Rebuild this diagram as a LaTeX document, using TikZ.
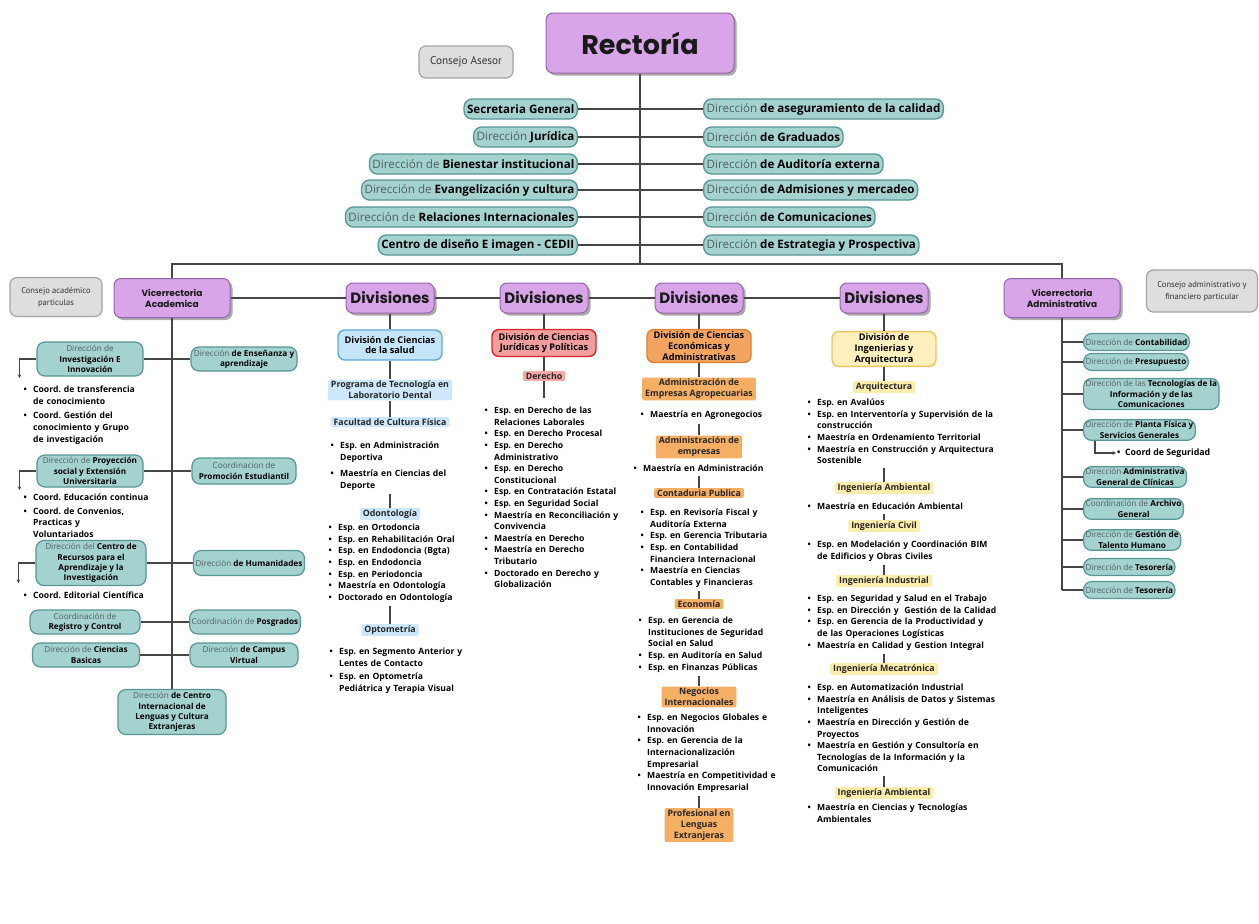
\documentclass[tikz,border=0pt]{standalone}
\usepackage{fontspec}
\setmainfont{Open Sans}
\newfontfamily\headfont{Poppins}
\newfontfamily\narrowfont{PT Sans}
\usetikzlibrary{shadows,arrows.meta}
\AtBeginDocument{\frenchspacing}

\definecolor{lila}{RGB}{216,166,232}
\definecolor{lilaborde}{RGB}{150,100,170}
\definecolor{turq}{RGB}{163,210,207}
\definecolor{turqborde}{RGB}{88,150,150}
\definecolor{gris}{RGB}{222,222,222}
\definecolor{grisborde}{RGB}{165,165,165}
\definecolor{azul}{RGB}{196,229,248}
\definecolor{azulborde}{RGB}{95,170,215}
\definecolor{azulclaro}{RGB}{204,232,250}
\definecolor{rojo}{RGB}{242,158,158}
\definecolor{rojoborde}{RGB}{214,40,40}
\definecolor{rosa}{RGB}{244,168,168}
\definecolor{naranja}{RGB}{243,165,95}
\definecolor{naranjaborde}{RGB}{222,128,50}
\definecolor{naranjaclaro}{RGB}{245,175,100}
\definecolor{amarillo}{RGB}{253,240,188}
\definecolor{amarilloborde}{RGB}{238,196,96}
\definecolor{amarilloclaro}{RGB}{252,237,172}
\definecolor{linea}{RGB}{70,70,70}
\definecolor{txtgris}{RGB}{80,95,95}

\newcommand{\rg}[1]{{\mdseries\color{txtgris}#1}}
\newcommand{\itm}[1]{\par\hangindent=11pt\hangafter=1\noindent
  \makebox[11pt][l]{\hspace{1.5pt}\textbullet}{\let\\\newline#1}\par}

\tikzset{
  conn/.style={draw=linea, line width=1.1pt},
  flecha/.style={conn, -{Stealth[length=3.5pt,width=3.5pt]}},
  morado/.style={draw=lilaborde, fill=lila, line width=1pt, rounded corners=7pt,
    drop shadow={shadow xshift=2.5pt, shadow yshift=-2.5pt, fill=black!65},
    align=center, inner sep=2pt, text=black!90},
  divs/.style={morado, minimum width=88pt, minimum height=30pt,
    font=\headfont\bfseries\fontsize{15}{17}\selectfont},
  vice/.style={morado, minimum width=116pt, minimum height=39pt,
    font=\headfont\bfseries\fontsize{9}{11}\selectfont},
  consejo/.style={draw=grisborde, fill=gris, line width=1.2pt, rounded corners=7pt,
    align=center, inner sep=2pt, text=black!80},
  pill/.style={draw=turqborde, fill=turq, line width=1.3pt, rounded corners=8pt,
    font=\bfseries\fontsize{11.6}{13}\selectfont, inner xsep=3pt, inner ysep=1pt, minimum height=20pt},
  cajita/.style={draw=turqborde, fill=turq, line width=1.2pt, rounded corners=8pt,
    font=\bfseries\fontsize{8.2}{10.3}\selectfont, align=center, inner sep=2pt, minimum height=17pt},
  division/.style={line width=1.4pt, rounded corners=7pt, font=\bfseries\fontsize{9.2}{10.8}\selectfont,
    align=center, inner sep=2pt, minimum width=104pt},
  resalte/.style={font=\bfseries\fontsize{8.8}{11}\selectfont, align=center,
    inner xsep=3pt, inner ysep=1.5pt, rounded corners=2pt, text=black!85},
  lista/.style={anchor=north west, inner sep=0pt, outer ysep=4pt, align=left, text width=#1,
    font=\bfseries\fontsize{8.6}{11.6}\selectfont},
}

\begin{document}
\begin{tikzpicture}[x=1pt,y=-1pt]
\fill[white] (0,0) rectangle (1259,924);
\useasboundingbox (0,0) rectangle (1259,924);

% rectoria
\node[morado, minimum width=188pt, minimum height=60pt,
  font=\headfont\bfseries\fontsize{27}{30}\selectfont] (rect) at (640,43) {Rectoría};
\node[consejo, minimum width=94pt, minimum height=32pt,
  font=\narrowfont\fontsize{11.2}{13}\selectfont] (casesor) at (466,62) {Consejo Asesor};
\coordinate (bus) at (640,264);
\draw[conn] (rect.south) -- (bus);

\foreach \y/\nm/\txt in {109/sg/{Secretaria General}, 137/jur/{\rg{Dirección} Jurídica},
  164/bien/{\rg{Dirección de} Bienestar institucional}, 190/evan/{\rg{Dirección de} Evangelización y cultura},
  217/rri/{\rg{Dirección de} Relaciones Internacionales}, 245/cedii/{Centro de diseño E imagen - CEDII}}{
  \node[pill, anchor=east] (\nm) at (578,\y) {\txt};
  \draw[conn] (\nm.east) -- (rect.south |- \nm.east);
}
\foreach \y/\nm/\txt in {109/cal/{\rg{Dirección} de aseguramiento de la calidad}, 137/grad/{\rg{Dirección} de Graduados},
  164/aud/{\rg{Dirección} de Auditoría externa}, 190/admis/{\rg{Dirección} de Admisiones y mercadeo},
  217/com/{\rg{Dirección} de Comunicaciones}, 245/estr/{\rg{Dirección} de Estrategia y Prospectiva}}{
  \node[pill, anchor=west] (\nm) at (703,\y) {\txt};
  \draw[conn] (rect.south |- \nm.west) -- (\nm.west);
}

% segundo nivel
\node[consejo, minimum width=92pt, minimum height=39pt,
  font=\narrowfont\fontsize{8.5}{12}\selectfont] (cacad) at (56,297) {Consejo académico\\particulas};
\node[vice] (vacad) at (172,298) {Vicerrectoria\\Academica};
\node[vice] (vadm) at (1062,298) {Vicerrectoria\\Administrativa};
\node[consejo, minimum width=111pt, minimum height=42pt,
  font=\narrowfont\fontsize{8.5}{12}\selectfont] (cadm) at (1202,291) {Consejo administrativo y\\financiero particular};
\foreach \nm/\x in {div1/390, div2/544, div3/699, div4/884}
  \node[divs] (\nm) at (\x,298) {Divisiones};
\draw[conn] (vacad.north) -- (vacad.north |- bus) -- (vadm.north |- bus) -- (vadm.north);
\draw[conn] (vacad.east) -- (div1.west) (div1.east) -- (div2.west) (div2.east) -- (div3.west)
  (div3.east) -- (div4.west);

% vicerrectoria academica
\node[cajita, minimum width=108pt, minimum height=45pt] (cil) at (172,712)
  {\rg{Dirección} de Centro\\Internacional de\\Lenguas y Cultura\\Extranjeras};
\draw[conn] (vacad.south) -- (cil.north);

\node[cajita, minimum width=106pt, minimum height=34pt] (inv) at (90,359) {\rg{Dirección de}\\Investigación E\\Innovación};
\node[cajita, minimum width=106pt, minimum height=24pt] (ens) at (244,359) {\rg{Dirección} de Enseñanza y\\aprendizaje};
\node[cajita, minimum width=106pt, minimum height=32pt] (proy) at (90,471) {\rg{Dirección de} Proyección\\social y Extensión\\Universitaria};
\node[cajita, minimum width=104pt, minimum height=26pt] (prom) at (244,471) {\rg{Coordinacion de}\\Promoción Estudiantil};
\node[cajita, minimum width=110pt, minimum height=45pt] (crai) at (91,563) {\rg{Dirección del} Centro de\\Recursos para el\\Aprendizaje y la\\Investigación};
\node[cajita, minimum width=111pt, minimum height=25pt] (hum) at (249,563) {\rg{Dirección} de Humanidades};
\node[cajita, minimum width=110pt, minimum height=24pt] (reg) at (85,622) {\rg{Coordinación de}\\Registro y Control};
\node[cajita, minimum width=110pt, minimum height=24pt] (posg) at (245,622) {\rg{Coordinación de} Posgrados};
\node[cajita, minimum width=107pt, minimum height=24pt] (cbas) at (86,655) {\rg{Dirección de} Ciencias\\Basicas};
\node[cajita, minimum width=108pt, minimum height=24pt] (cvir) at (244,655) {\rg{Dirección} de Campus\\Virtual};
\foreach \a/\b in {inv/ens, proy/prom, crai/hum, reg/posg, cbas/cvir}
  \draw[conn] (\a.east) -- (\b.west);
\foreach \a/\d in {inv/19, proy/19, crai/20}
  \draw[flecha] (\a.west) -- ++(-17,0) -- ++(0,\d);

\node[lista=130pt] (linv) at (22,374) {\setlength{\parskip}{3pt}%
  \itm{Coord. de transferencia\\de conocimiento}\itm{Coord. Gestión del\\conocimiento y Grupo\\de investigación}};
\node[lista=140pt] (lproy) at (22,483) {\setlength{\parskip}{2pt}%
  \itm{Coord. Educación continua}\itm{Coord. de Convenios,\\Practicas y\\Voluntariados}};
\node[lista=140pt] (lcrai) at (22,583) {\itm{Coord. Editorial Científica}};

% division ciencias de la salud
\node[division, draw=azulborde, fill=azul, minimum height=30pt] (dsal) at (390,345) {División de Ciencias\\de la salud};
\node[resalte, fill=azulclaro] (ptl) at (390,390) {Programa de Tecnología en\\Laboratorio Dental};
\node[resalte, fill=azulclaro] (fcf) at (390,422) {Facultad de Cultura Física};
\node[lista=150pt] (l2a) at (329,428) {\setlength{\parskip}{5pt}%
  \itm{Esp. en Administración\\Deportiva}\itm{Maestría en Ciencias del\\Deporte}};
\node[resalte, fill=azulclaro] (odo) at (390,514) {Odontología};
\node[lista=150pt] (l2b) at (327,515) {\itm{Esp. en Ortodoncia}\itm{Esp. en Rehabilitación Oral}%
  \itm{Esp. en Endodoncia (Bgta)}\itm{Esp. en Endodoncia}\itm{Esp. en Periodoncia}%
  \itm{Maestría en Odontología}\itm{Doctorado en Odontología}};
\node[resalte, fill=azulclaro] (opt) at (390,630) {Optometría};
\node[lista=150pt] (l2c) at (328,637) {\setlength{\parskip}{2pt}%
  \itm{Esp. en Segmento Anterior y\\Lentes de Contacto}\itm{Esp. en Optometría\\Pediátrica y Terapia Visual}};
\draw[conn] (div1.south) -- (dsal.north) (dsal.south) -- (ptl.north) (ptl.south) -- (fcf.north);
\draw[conn] (odo.north |- l2a.south) -- (odo.north) (opt.north |- l2b.south) -- (opt.north);

% division ciencias juridicas
\node[division, draw=rojoborde, fill=rojo, minimum height=27pt] (djur) at (544,343) {División de Ciencias\\Jurídicas y Políticas};
\node[resalte, fill=rosa] (der) at (544,376) {Derecho};
\node[lista=150pt] (l3) at (483,398) {\itm{Esp. en Derecho de las\\Relaciones Laborales}%
  \itm{Esp. en Derecho Procesal}\itm{Esp. en Derecho\\Administrativo}\itm{Esp. en Derecho\\Constitucional}%
  \itm{Esp. en Contratación Estatal}\itm{Esp. en Seguridad Social}%
  \itm{Maestría en Reconciliación y\\Convivencia}\itm{Maestría en Derecho}%
  \itm{Maestría en Derecho\\Tributario}\itm{Doctorado en Derecho y\\Globalización}};
\draw[conn] (div2.south) -- (djur.north) (djur.south) -- (der.north) (der.south) -- (der.south |- l3.north);

% division ciencias economicas
\node[division, draw=naranjaborde, fill=naranja, minimum height=33pt] (deco) at (699,346)
  {División de Ciencias\\Económicas y\\Administrativas};
\node[resalte, fill=naranjaclaro] (aea) at (699,389) {Administración de\\Empresas Agropecuarias};
\node[lista=150pt] (l4a) at (639,402) {\itm{Maestría en Agronegocios}};
\node[resalte, fill=naranjaclaro] (ade) at (699,447) {Administración de\\empresas};
\node[lista=150pt] (l4b) at (632,456) {\itm{Maestría en Administración}};
\node[resalte, fill=naranjaclaro] (cp) at (699,493) {Contaduria Publica};
\node[lista=150pt] (l4c) at (639,500) {\itm{Esp. en Revisoría Fiscal y\\Auditoría Externa}%
  \itm{Esp. en Gerencia Tributaria}\itm{Esp. en Contabilidad\\Financiera Internacional}%
  \itm{Maestría en Ciencias\\Contables y Financieras}};
\node[resalte, fill=naranjaclaro] (eco) at (699,604) {Economía};
\node[lista=150pt] (l4d) at (637,608) {\itm{Esp. en Gerencia de\\Instituciones de Seguridad\\Social en Salud}%
  \itm{Esp. en Auditoría en Salud}\itm{Esp. en Finanzas Públicas}};
\node[resalte, fill=naranjaclaro] (ni) at (699,697) {Negocios\\Internacionales};
\node[lista=150pt] (l4e) at (636,705) {\itm{Esp. en Negocios Globales e\\Innovación}%
  \itm{Esp. en Gerencia de la\\Internacionalización\\Empresarial}%
  \itm{Maestría en Competitividad e\\Innovación Empresarial}};
\node[resalte, fill=naranjaclaro] (prof) at (699,825) {Profesional en\\Lenguas\\Extranjeras};
\draw[conn] (div3.south) -- (deco.north) (deco.south) -- (aea.north);
\foreach \a/\b in {l4a/ade, l4b/cp, l4c/eco, l4d/ni}
  \draw[conn] (\b.north |- \a.south) -- (\b.north);
\draw[conn] (prof.north) -- (prof.north |- l4e.south);

% division ingenierias
\node[division, draw=amarilloborde, fill=amarillo, minimum height=34pt] (ding) at (884,349)
  {División de\\Ingenierias y\\Arquitectura};
\node[resalte, fill=amarilloclaro] (arq) at (884,387) {Arquitectura};
\node[lista=220pt] (l5a) at (806,390) {\itm{Esp. en Avalúos}%
  \itm{Esp. en Interventoría y Supervisión de la\\construcción}%
  \itm{Maestría en Ordenamiento Territorial}%
  \itm{Maestría en Construcción y Arquitectura\\Sostenible}};
\node[resalte, fill=amarilloclaro] (iamb) at (884,488) {Ingeniería Ambiental};
\node[lista=220pt] (l5b) at (806,494) {\itm{Maestría en Educación Ambiental}};
\node[resalte, fill=amarilloclaro] (iciv) at (884,526) {Ingeniería Civil};
\node[lista=220pt] (l5c) at (806,532) {\itm{Esp. en Modelación y Coordinación BIM\\de Edificios y Obras Civiles}};
\node[resalte, fill=amarilloclaro] (iind) at (884,581) {Ingeniería Industrial};
\node[lista=220pt] (l5d) at (806,586) {\itm{Esp. en Seguridad y Salud en el Trabajo}%
  \itm{Esp. en Dirección y\ \ Gestión de la Calidad}%
  \itm{Esp. en Gerencia de la Productividad y\\de las Operaciones Logísticas}%
  \itm{Maestría en Calidad y Gestion Integral}};
\node[resalte, fill=amarilloclaro] (imec) at (884,669) {Ingeniería Mecatrónica};
\node[lista=220pt] (l5e) at (806,675) {\itm{Esp. en Automatización Industrial}%
  \itm{Maestría en Análisis de Datos y Sistemas\\Inteligentes}%
  \itm{Maestría en Dirección y Gestión de\\Proyectos}%
  \itm{Maestría en Gestión y Consultoría en\\Tecnologías de la Información y la\\Comunicación}};
\node[resalte, fill=amarilloclaro] (iamb2) at (884,793) {Ingeniería Ambiental};
\node[lista=220pt] (l5f) at (806,795) {\itm{Maestría en Ciencias y Tecnologías\\Ambientales}};
\draw[conn] (div4.south) -- (ding.north) (ding.south) -- (arq.north);
\foreach \a/\b in {l5a/iamb, l5b/iciv, l5c/iind, l5d/imec, l5e/iamb2}
  \draw[conn] (\b.north |- \a.south) -- (\b.north);

% vicerrectoria administrativa
\foreach \y/\nm/\txt in {342/cont/{\rg{Dirección de} Contabilidad}, 362/pres/{\rg{Dirección de} Presupuesto},
  394/tic/{\rg{Dirección de las} Tecnologías de la\\Información y de las\\Comunicaciones},
  430/pfis/{\rg{Dirección de} Planta Física y\\Servicios Generales},
  477/clin/{\rg{Dirección} Administrativa\\General de Clínicas},
  509/arch/{\rg{Coordinación de} Archivo\\General}, 540/tal/{\rg{Dirección de} Gestión de\\Talento Humano},
  567/tes/{\rg{Dirección de} Tesorería}, 590/tesb/{\rg{Dirección de} Tesorería}}{
  \node[cajita, anchor=west] (\nm) at (1083,\y) {\txt};
  \draw[conn] (vadm.south |- \nm.west) -- (\nm.west);
}
\draw[conn] (vadm.south) -- (vadm.south |- tesb.west);
\node[anchor=west, inner sep=1pt, font=\bfseries\fontsize{8.8}{10}\selectfont] (cseg) at (1116,453)
  {\textbullet\ \ Coord de Seguridad};
\draw[flecha] ([xshift=12pt]pfis.south west) |- (cseg.west);
\end{tikzpicture}
\end{document}
